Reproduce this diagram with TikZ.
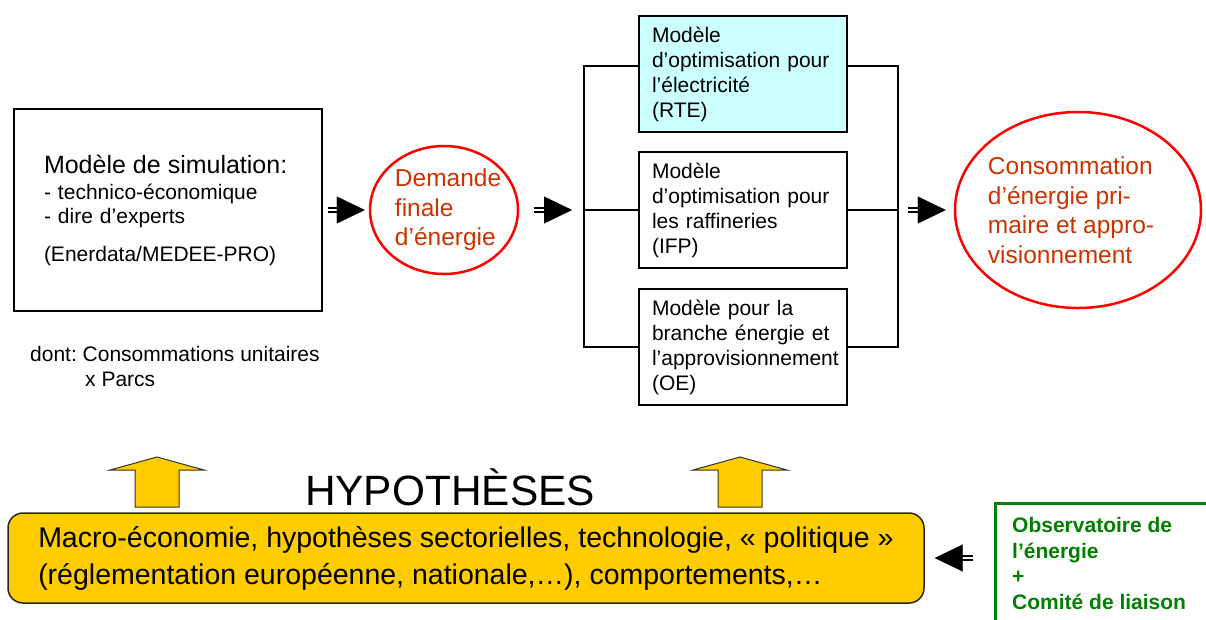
\documentclass[tikz,border=0pt]{standalone}
\usepackage{fontspec}
\setmainfont{Liberation Sans}
\usetikzlibrary{arrows.meta,positioning,calc,shapes.geometric}
\definecolor{fred}{HTML}{FF0000}
\definecolor{fbrick}{HTML}{CC3300}
\definecolor{fcyan}{HTML}{CCFFFF}
\definecolor{fgold}{HTML}{FFCC00}
\definecolor{fgreen}{HTML}{008000}
\hyphenpenalty=10000
\exhyphenpenalty=10000
\frenchspacing

\begin{document}
\begin{tikzpicture}[x=1pt, y=-1pt,
  txt/.style={font=\fontsize{21}{25}\selectfont, align=left, inner sep=0pt},
  model/.style={draw, line width=2pt, minimum width=208pt, minimum height=116pt,
    text width=182pt, inner xsep=13pt, align=left, font=\fontsize{21}{25}\selectfont},
  demand/.style={draw=fred, line width=2.5pt, ellipse, inner sep=0pt},
  redtxt/.style={text=fbrick, font=\fontsize{24.5}{29.5}\selectfont, align=left,
    inner sep=0pt, anchor=west},
  eqtail/.style={double, double distance=2.6pt, line width=1.3pt, shorten >=20pt},
  fattip/.style={draw=white, line width=0.1pt, -{Triangle[length=28pt, width=27pt, color=black]}},
  bigup/.style={draw=black!80, line width=1pt, fill=fgold, line join=miter},
]
\useasboundingbox (0,0) rectangle (1206,619);
% ---------------- simulation model ----------------
\node[draw, line width=2pt, minimum width=308pt, minimum height=202pt, text width=248pt,
  inner xsep=30pt, align=left, font=\fontsize{21}{24}\selectfont] (sim) at (168,210)
  {{\fontsize{25}{28}\selectfont Modèle de simulation:}\\[2pt]
   - technico-économique\\
   - dire d’experts\\[14pt]
   (Enerdata/MEDEE-PRO)};
\node[txt, anchor=north west] (dont) at (30,346)
  {dont: Consommations unitaires\\\hspace*{55pt}x Parcs};
% ---------------- final demand ----------------
\node[demand, minimum width=148pt, minimum height=128pt] (dem) at (444,210) {};
\node[redtxt] (demtxt) at ([xshift=26pt]dem.west) {Demande\\finale\\d’énergie};
% ---------------- optimisation models ----------------
\node[model, fill=fcyan] (rte) at (743,74)
  {Modèle\\d’optimisation pour\\l’électricité\\(RTE)};
\node[model] (ifp) at (743,210)
  {Modèle\\d’optimisation pour\\les raffineries\\(IFP)};
\node[model] (oe) at (743,347)
  {Modèle pour la\\branche énergie et\\l’approvisionnement\\(OE)};
\coordinate (lbr) at (584,210);
\coordinate (rbr) at (898,210);
\draw[line width=1.2pt] ([yshift=8pt]rte.west) -| (lbr) |- (oe.west);
\draw[line width=1.2pt] (lbr) -- (ifp.west);
\draw[line width=1.2pt] ([yshift=8pt]rte.east) -| (rbr) |- (oe.east);
\draw[line width=1.2pt] (ifp.east) -- (rbr);
% ---------------- primary consumption ----------------
\node[demand, minimum width=246pt, minimum height=196pt] (cons) at (1078,210) {};
\node[redtxt] (constxt) at ([xshift=34pt]cons.west)
  {Consommation\\d’énergie pri-\\maire et appro-\\visionnement};
% ---------------- flow arrows ----------------
\draw[eqtail] ([xshift=5pt]sim.east) -- ([xshift=-4pt]dem.west);
\draw[fattip] ([xshift=5pt]sim.east) -- ([xshift=-4pt]dem.west);
\draw[eqtail] ([xshift=15pt]dem.east) -- ([xshift=-12pt]lbr);
\draw[fattip] ([xshift=15pt]dem.east) -- ([xshift=-12pt]lbr);
\draw[eqtail] ([xshift=10pt]rbr) -- ([xshift=-8pt]cons.west);
\draw[fattip] ([xshift=10pt]rbr) -- ([xshift=-8pt]cons.west);
% ---------------- hypotheses ----------------
\node[font=\fontsize{42.4}{48}\selectfont, anchor=base] (hyptitle) at (450,505) {HYPOTHÈSES};
\node[draw=black!85, line width=1.5pt, fill=fgold, rounded corners=15pt,
  minimum width=916pt, minimum height=90pt, align=left,
  font=\fontsize{28.5}{37}\selectfont] (hyp) at (466,558)
  {Macro-économie, hypothèses sectorielles, technologie, « politique »\\
   (réglementation européenne, nationale,…), comportements,…};
\foreach \x in {157,740}{
  \draw[bigup] (\x-22,507) -- (\x-22,470) -- (\x-47,470) -- (\x,457)
    -- (\x+47,470) -- (\x+22,470) -- (\x+22,507) -- cycle;
}
% ---------------- observatory ----------------
\node[anchor=north west, text=fgreen, align=left, inner xsep=17pt, inner ysep=14pt,
  font=\fontsize{21}{25.7}\selectfont\bfseries] (obs) at (995,503)
  {Observatoire de\\l’énergie\\+\\Comité de liaison};
\draw[fgreen, line width=3pt] ([yshift=-60pt]obs.south west) -- (obs.north west)
  -- ([xshift=60pt]obs.north east);
\coordinate (obsin) at (hyp.east -| obs.west);
\draw[eqtail] ([xshift=-22pt]obsin) -- ([xshift=10pt]hyp.east);
\draw[fattip] ([xshift=-22pt]obsin) -- ([xshift=10pt]hyp.east);
\end{tikzpicture}
\end{document}
